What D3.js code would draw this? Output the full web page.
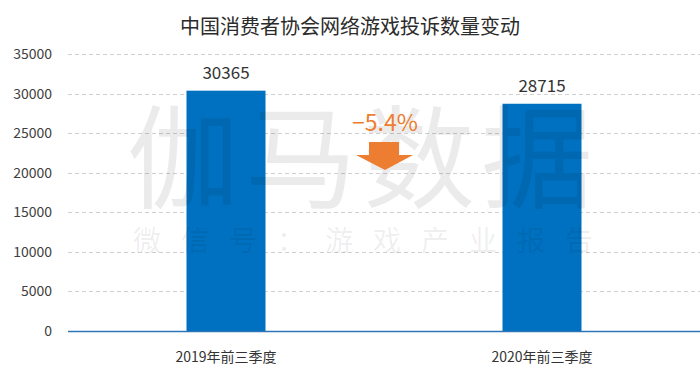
<!DOCTYPE html>
<html>
<head>
<meta charset="utf-8">
<script src="https://cdnjs.cloudflare.com/ajax/libs/d3/7.8.5/d3.min.js"></script>
<style>
body{margin:0;background:#fff;}
text{font-family:"Noto Sans CJK SC","Microsoft YaHei",sans-serif;}
</style>
</head>
<body>
<div id="chart"></div>
<script>
var categories = ["2019年前三季度", "2020年前三季度"];
var values = [30365, 28715];
var y_ticks = [0, 5000, 10000, 15000, 20000, 25000, 30000, 35000];
var change_label = "−5.4%";
var title_text = "中国消费者协会网络游戏投诉数量变动";

var width = 700, height = 390;
var margin = {top: 54, right: 0, bottom: 59, left: 68};

var svg = d3.select("#chart").append("svg")
	.attr("width", width)
	.attr("height", height);

var x = d3.scaleBand()
	.domain(categories)
	.range([margin.left, width - margin.right])
	.paddingInner(0.75)
	.paddingOuter(0.375);

var y = d3.scaleLinear()
	.domain([0, 35000])
	.range([height - margin.bottom, margin.top]);

// title
svg.append("text")
	.attr("x", 350)
	.attr("y", 34)
	.attr("text-anchor", "middle")
	.attr("font-size", 20)
	.attr("fill", "#2b2b2b")
	.text(title_text);

// grid
svg.append("g")
	.selectAll("line")
	.data(y_ticks.filter(function(d){ return d > 0; }))
	.enter()
	.append("line")
	.attr("x1", margin.left)
	.attr("x2", width)
	.attr("y1", function(d){ return Math.round(y(d)) + 0.5; })
	.attr("y2", function(d){ return Math.round(y(d)) + 0.5; })
	.attr("stroke", "#d0d0d0")
	.attr("stroke-dasharray", "4,3");

// y tick labels
svg.append("g")
	.selectAll("text")
	.data(y_ticks)
	.enter()
	.append("text")
	.attr("x", 52)
	.attr("y", function(d){ return y(d) + 5; })
	.attr("text-anchor", "end")
	.attr("font-size", 14)
	.attr("fill", "#404040")
	.text(function(d){ return d; });

// bars
svg.append("g")
	.selectAll("rect")
	.data(values)
	.enter()
	.append("rect")
	.attr("x", function(d, i){ return x(categories[i]); })
	.attr("y", function(d){ return y(d); })
	.attr("width", x.bandwidth())
	.attr("height", function(d){ return y(0) - y(d); })
	.attr("fill", "#0070c0");

// baseline
svg.append("line")
	.attr("x1", margin.left)
	.attr("x2", width)
	.attr("y1", y(0) + 0.5)
	.attr("y2", y(0) + 0.5)
	.attr("stroke", "#2e75b6")
	.attr("stroke-width", 1.5);

// value labels
svg.append("g")
	.selectAll("text")
	.data(values)
	.enter()
	.append("text")
	.attr("x", function(d, i){ return x(categories[i]) + x.bandwidth() / 2; })
	.attr("y", function(d){ return y(d) - 12; })
	.attr("text-anchor", "middle")
	.attr("font-size", 17)
	.attr("fill", "#333")
	.text(function(d){ return d; });

// category labels
svg.append("g")
	.selectAll("text")
	.data(categories)
	.enter()
	.append("text")
	.attr("x", function(d){ return x(d) + x.bandwidth() / 2; })
	.attr("y", 362)
	.attr("text-anchor", "middle")
	.attr("font-size", 14)
	.attr("fill", "#333")
	.text(function(d){ return d; });

// watermark
var wm = svg.append("g").attr("pointer-events", "none");
wm.append("text")
	.attr("x", 363)
	.attr("y", 200)
	.attr("text-anchor", "middle")
	.attr("font-size", 112)
	.attr("letter-spacing", 6)
	.attr("fill", "#000")
	.attr("fill-opacity", 0.08)
	.text("伽马数据");
wm.append("text")
	.attr("x", 133)
	.attr("y", 251)
	.attr("textLength", 460)
	.attr("lengthAdjust", "spacing")
	.attr("font-size", 28)
	.attr("fill", "#000")
	.attr("fill-opacity", 0.08)
	.text("微信号：游戏产业报告");

// change arrow
var ax = 385;
svg.append("path")
	.attr("d", "M" + (ax - 16) + ",142 L" + (ax + 14) + ",142 L" + (ax + 14) + ",155 L" + (ax + 28) + ",155 L" + ax + ",170 L" + (ax - 29) + ",155 L" + (ax - 16) + ",155 Z")
	.attr("fill", "#ed7d31");

svg.append("text")
	.attr("x", ax)
	.attr("y", 131)
	.attr("text-anchor", "middle")
	.attr("font-size", 23)
	.attr("fill", "#ed7d31")
	.text(change_label);
</script>
</body>
</html>
